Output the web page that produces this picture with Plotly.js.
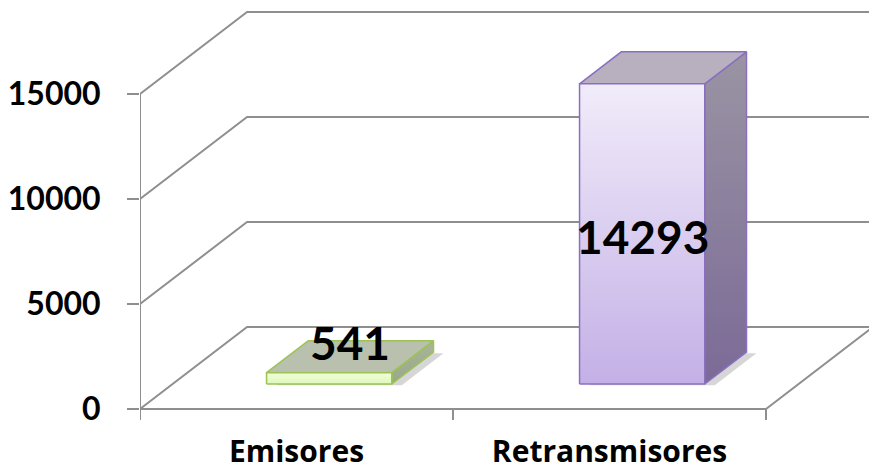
<!DOCTYPE html>
<html>
<head>
<meta charset="utf-8">
<script src="https://cdn.plot.ly/plotly-3.0.1.min.js"></script>
<style>html,body{margin:0;padding:0;background:#fff;}#chart{width:869px;height:472px;}</style>
</head>
<body>
<div id="chart"></div>
<script>
// ---- data ----
const categories = ['Emisores', 'Retransmisores'];
const values = [541, 14293];
const yTickVals = [0, 5000, 10000, 15000];
const yTickText = ['0', '5000', '10000', '15000'];

// ---- styling per bar ----
const barStyles = [
  {front: [[0, '#dff7b8'], [1, '#f1ffdc']], side: [[0, '#9aa789'], [1, '#aab59b']], top: '#b9c0ae', line: '#9cc353'},
  {front: [[0, '#c4b0e6'], [1, '#f1ecfa']], side: [[0, '#7b6a97'], [1, '#9a94a3']], top: '#b8b0bf', line: '#8a6fc1'}
];

// ---- 3D-ish geometry in axis units ----
const DX = 0.342;   // depth shift along x (category units)
const DV = 3905;    // depth shift along y (value units)
const F0 = 0.305;   // bar front position (fraction of depth)
const BD = 0.39;    // bar depth (fraction of depth)
const W = 0.40;     // bar width (category units)
const XMIN = -0.5, XMAX = -0.5 + 729 / 313;
const YMIN = -1000, YMAX = 19476;
const gridColor = '#8f8f8f';

const traces = [];
function line(xs, ys, color, width) {
  traces.push({type: 'scatter', mode: 'lines', x: xs, y: ys, hoverinfo: 'skip',
    line: {color: color, width: width}, showlegend: false});
}
function poly(xs, ys, fill, lineColor, grad) {
  const t = {type: 'scatter', mode: 'lines', x: xs.concat([xs[0]]), y: ys.concat([ys[0]]),
    fill: 'toself', hoverinfo: 'skip', showlegend: false,
    line: {color: lineColor, width: lineColor ? 1.5 : 0}};
  if (grad) t.fillgradient = {type: 'vertical', colorscale: grad};
  else t.fillcolor = fill;
  traces.push(t);
}

// gridlines (left wall + back wall)
yTickVals.forEach(v => {
  line([XMIN, XMIN + DX, XMAX + 1], [v, v + DV, v + DV], gridColor, 2);
});
// floor front edge
const nCat = categories.length;
line([XMIN, XMIN + nCat, XMIN + nCat + DX], [0, 0, DV], gridColor, 2);
// vertical axis line
const tickDown = -11 * (YMAX - YMIN) / 430;
line([XMIN, XMIN], [tickDown, yTickVals[yTickVals.length - 1]], gridColor, 2);
// category tick marks
for (let i = 0; i <= nCat; i++) {
  line([XMIN + i, XMIN + i], [0, tickDown], gridColor, 2);
}

// bars
values.forEach((v, i) => {
  const s = barStyles[i];
  const c = i + F0 * DX;
  const xl = c - W / 2, xr = c + W / 2;
  const b0 = F0 * DV, t = b0 + v;
  const ddx = BD * DX, ddv = BD * DV;
  const sh = 10 / 313;
  // floor shadow
  poly([xl + sh, xr + sh, xr + ddx + sh, xl + ddx + sh], [b0 - 60, b0 - 60, b0 + ddv - 60, b0 + ddv - 60], 'rgba(0,0,0,0.16)', null);
  // side face
  poly([xr, xr, xr + ddx, xr + ddx], [b0, t, t + ddv, b0 + ddv], null, s.line, s.side);
  // top face
  poly([xl, xr, xr + ddx, xl + ddx], [t, t, t + ddv, t + ddv], s.top, s.line, null);
  // front face
  poly([xl, xr, xr, xl], [b0, b0, t, t], null, s.line, s.front);
});

// data labels
const annotations = values.map((v, i) => {
  const c = i + F0 * DX;
  const b0 = F0 * DV;
  const small = v < 3000;
  return {
    x: small ? c + BD * DX / 2 : c,
    y: small ? b0 + v + BD * DV / 2 : b0 + v / 2,
    xref: 'x', yref: 'y', showarrow: false,
    text: String(v), yshift: small ? 14 : -3,
    font: {family: 'Lato, sans-serif', size: 46, color: '#000', weight: 700}
  };
});

const layout = {
  width: 869, height: 472,
  margin: {l: 140, r: 0, t: 0, b: 42},
  paper_bgcolor: '#fff', plot_bgcolor: 'rgba(0,0,0,0)',
  showlegend: false,
  xaxis: {range: [XMIN, XMAX], tickvals: categories.map((_, i) => i), ticktext: categories,
    showgrid: false, zeroline: false, showline: false, ticks: '', ticklabelstandoff: 1,
    tickfont: {family: '"Open Sans", sans-serif', size: 30, color: '#000', weight: 700}, fixedrange: true},
  yaxis: {range: [YMIN, YMAX], tickvals: yTickVals, ticktext: yTickText,
    showgrid: false, zeroline: false, showline: false, ticks: 'outside', ticklen: 12,
    tickwidth: 2, tickcolor: gridColor, ticklabelstandoff: 20,
    tickfont: {family: 'Lato, sans-serif', size: 32, color: '#000', weight: 700}, fixedrange: true},
  annotations: annotations
};

Plotly.newPlot('chart', traces, layout, {displayModeBar: false, staticPlot: true});
</script>
</body>
</html>
